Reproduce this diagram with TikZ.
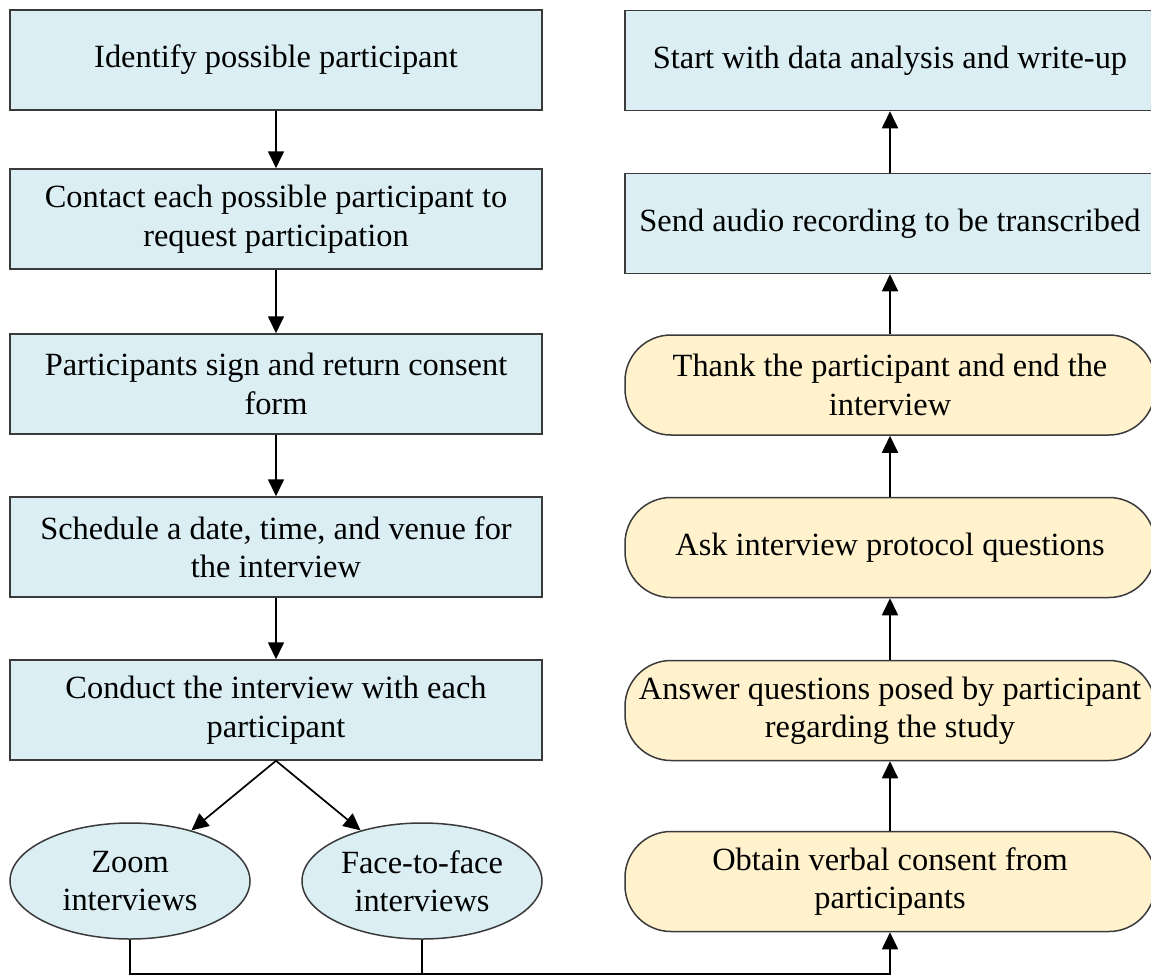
\documentclass[tikz,border=0pt]{standalone}
\usepackage{fontspec}
\setmainfont{Liberation Serif}
\usetikzlibrary{arrows.meta,shapes.geometric}
\definecolor{boxblue}{HTML}{DAEEF3}
\definecolor{boxtan}{HTML}{FFF2CC}
\definecolor{edge}{HTML}{3A3A3A}
\begin{document}
\begin{tikzpicture}[x=1pt,y=-1pt,
  every node/.style={font=\fontsize{32.4}{38.5}\selectfont, align=center, inner sep=0pt},
  stepbox/.style={draw=edge, line width=1.5pt, fill=boxblue, minimum width=532pt, minimum height=100pt},
  rightbox/.style={draw=edge, line width=1.5pt, fill=boxblue, minimum width=530pt, minimum height=100pt},
  roundbox/.style={draw=edge, line width=1.5pt, fill=boxtan, rounded corners=46pt, minimum width=530pt, minimum height=100pt},
  modebox/.style={ellipse, draw=edge, line width=1.5pt, fill=boxblue, minimum width=240pt, minimum height=116pt},
  link/.style={line width=1.7pt, -{Triangle[length=17pt,width=16pt]}},
  plain/.style={line width=1.7pt}]
\clip (0,0) rectangle (1151,977);
\useasboundingbox (0,0) rectangle (1151,977);

% left column: recruitment and interview set-up
\node[stepbox] (identify) at (276,60) {Identify possible participant};
\node[stepbox] (contact) at (276,219) {Contact each possible participant to\\request participation};
\node[stepbox] (sign) at (276,384) {Participants sign and return consent\\form};
\node[stepbox] (schedule) at (276,547) {Schedule a date, time, and venue for\\the interview};
\node[stepbox] (conduct) at (276,710) {Conduct the interview with each\\participant};
\node[modebox] (zoom) at (130,881) {Zoom\\interviews};
\node[modebox] (face) at (422,881) {Face-to-face\\interviews};

% right column: interview session and follow-up
\node[rightbox] (analysis) at (890,60.5) {Start with data analysis and write-up};
\node[rightbox] (transcribe) at (890,223.5) {Send audio recording to be transcribed};
\node[roundbox] (thank) at (890,385) {Thank the participant and end the\\interview};
\node[roundbox] (ask) at (890,547.5) {Ask interview protocol questions};
\node[roundbox] (answer) at (890,710.5) {Answer questions posed by participant\\regarding the study};
\node[roundbox] (obtain) at (890,881.5) {Obtain verbal consent from\\participants};

\coordinate (base) at (0,974);

% connectors
\draw[link] (identify) -- (contact);
\draw[link] (contact) -- (sign);
\draw[link] (sign) -- (schedule);
\draw[link] (schedule) -- (conduct);
\draw[link] (conduct.south) -- (zoom);
\draw[link] (conduct.south) -- (face);
\draw[plain] (face.south) -- (face.south |- base);
\draw[link] (zoom.south) -- (zoom.south |- base) -| (obtain.south);
\draw[link] (obtain) -- (answer);
\draw[link] (answer) -- (ask);
\draw[link] (ask) -- (thank);
\draw[link] (thank) -- (transcribe);
\draw[link] (transcribe) -- (analysis);
\end{tikzpicture}
\end{document}
